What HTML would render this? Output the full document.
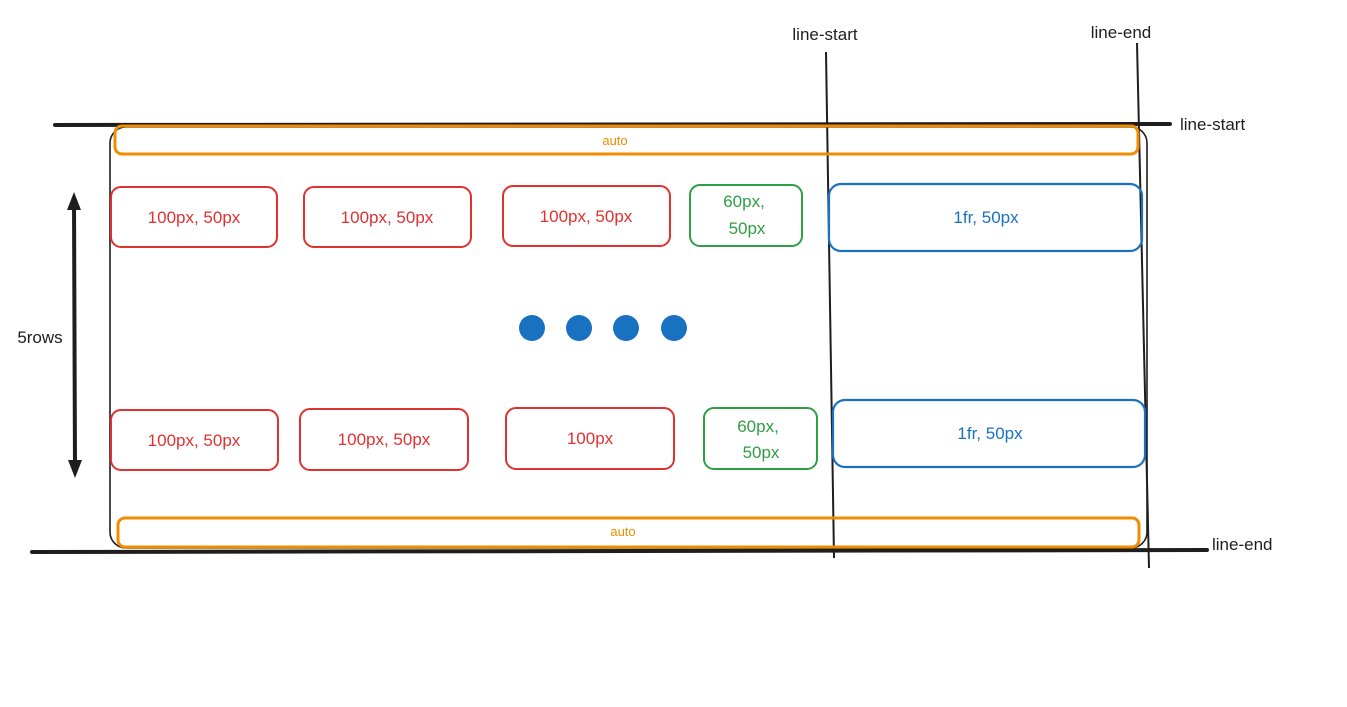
<!DOCTYPE html>
<html><head><meta charset="utf-8"><style>
html,body{margin:0;padding:0;background:#fff;}
svg{display:block;}
text{font-family:"Liberation Sans",sans-serif;}
</style></head><body>
<svg width="1347" height="707" viewBox="0 0 1347 707" xmlns="http://www.w3.org/2000/svg">
<rect width="1347" height="707" fill="#fff"/>
<!-- container -->
<rect x="110" y="127" width="1037" height="421" rx="16" fill="none" stroke="#1e1e1e" stroke-width="1.6"/>
<!-- thick horizontal lines -->
<line x1="55" y1="125" x2="1170" y2="124" stroke="#1e1e1e" stroke-width="4" stroke-linecap="round"/>
<line x1="32" y1="552" x2="1207" y2="550" stroke="#1e1e1e" stroke-width="4" stroke-linecap="round"/>
<text x="1180" y="130" font-size="17" fill="#1e1e1e">line-start</text>
<text x="1212" y="550" font-size="17" fill="#1e1e1e">line-end</text>
<!-- verticals -->
<line x1="826" y1="52" x2="834" y2="558" stroke="#1e1e1e" stroke-width="2"/>
<line x1="1137" y1="43" x2="1149" y2="568" stroke="#1e1e1e" stroke-width="2"/>
<text x="825" y="40" font-size="17" fill="#1e1e1e" text-anchor="middle">line-start</text>
<text x="1121" y="38" font-size="17" fill="#1e1e1e" text-anchor="middle">line-end</text>
<!-- orange -->
<rect x="115" y="126" width="1023" height="28" rx="7" fill="none" stroke="#f08c00" stroke-width="3"/>
<text x="615" y="145" font-size="13" fill="#f08c00" text-anchor="middle">auto</text>
<rect x="118" y="518" width="1021" height="29" rx="7" fill="none" stroke="#f08c00" stroke-width="3"/>
<text x="623" y="536" font-size="13" fill="#f08c00" text-anchor="middle">auto</text>
<!-- row 1 -->
<g fill="none" stroke="#e03131" stroke-width="2">
<rect x="111" y="187" width="166" height="60" rx="10"/>
<rect x="304" y="187" width="167" height="60" rx="10"/>
<rect x="503" y="186" width="167" height="60" rx="10"/>
<rect x="111" y="410" width="167" height="60" rx="10"/>
<rect x="300" y="409" width="168" height="61" rx="10"/>
<rect x="506" y="408" width="168" height="61" rx="10"/>
</g>
<g fill="#e03131" font-size="17" text-anchor="middle">
<text x="194" y="223">100px, 50px</text>
<text x="387" y="223">100px, 50px</text>
<text x="586" y="222">100px, 50px</text>
<text x="194" y="446">100px, 50px</text>
<text x="384" y="445">100px, 50px</text>
<text x="590" y="444">100px</text>
</g>
<g fill="none" stroke="#2f9e44" stroke-width="2">
<rect x="690" y="185" width="112" height="61" rx="10"/>
<rect x="704" y="408" width="113" height="61" rx="10"/>
</g>
<g fill="#2f9e44" font-size="17" text-anchor="middle">
<text x="744" y="207">60px,</text><text x="747" y="234">50px</text>
<text x="758" y="432">60px,</text><text x="761" y="458">50px</text>
</g>
<g fill="none" stroke="#1971c2" stroke-width="2.2">
<rect x="829" y="184" width="313" height="67" rx="12"/>
<rect x="833" y="400" width="312" height="67" rx="12"/>
</g>
<g fill="#1971c2" font-size="17" text-anchor="middle">
<text x="986" y="223">1fr, 50px</text>
<text x="990" y="439">1fr, 50px</text>
</g>
<!-- dots -->
<g fill="#1971c2">
<circle cx="532" cy="328" r="13"/><circle cx="579" cy="328" r="13"/>
<circle cx="626" cy="328" r="13"/><circle cx="674" cy="328" r="13"/>
</g>
<!-- arrow -->
<line x1="74" y1="200" x2="75" y2="470" stroke="#1e1e1e" stroke-width="4"/>
<polygon points="74,192 67,210 81,210" fill="#1e1e1e"/>
<polygon points="75,478 68,460 82,460" fill="#1e1e1e"/>
<text x="40" y="343" font-size="17" fill="#1e1e1e" text-anchor="middle">5rows</text>
</svg>
</body></html>
